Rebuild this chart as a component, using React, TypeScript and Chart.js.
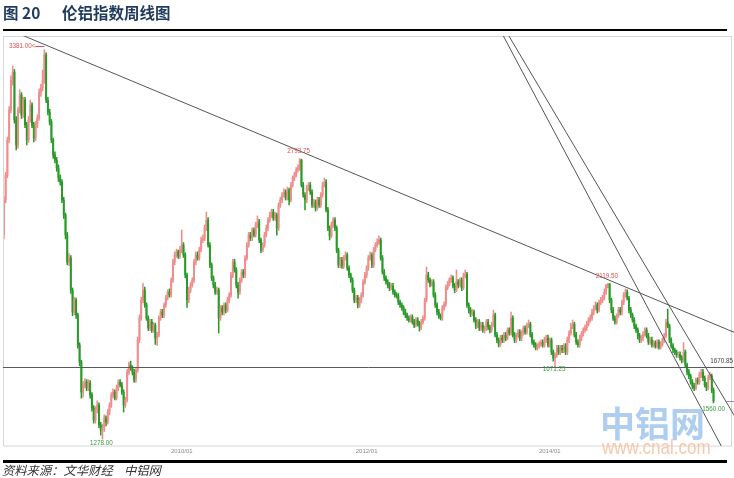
import React, { useEffect, useRef } from 'react';
import { Chart, registerables } from 'chart.js';
Chart.register(...registerables);

type Candle = [number, number, number, number]; // open, high, low, close

const w2008: Candle[] = [
  [2381,2590,2360,2570],[2570,2720,2555,2705],[2705,2910,2690,2894],[2894,3075,2880,3056],[3056,3240,3040,3218],
  [3218,3294,3190,3261],[3261,3275,2985,3002],[3002,3020,2840,2867],[2867,3070,2850,3056],[3056,3165,3040,3137],
  [3137,3150,3010,3029],[3029,3125,3015,3110],[3110,3125,2960,2975],[2975,2990,2867,2894],[2894,3020,2880,3002],
  [3002,3110,2990,3083],[3083,3095,2960,2975],[2975,2990,2883,2905],[2905,2995,2890,2975],[2975,3030,2960,3013],
  [3013,3170,3000,3153],[3153,3195,3130,3175],[3175,3272,3160,3218],[3218,3381,3200,3353],[3353,3365,3095,3110],
  [3110,3125,3030,3045],[3045,3060,2975,2991],[2991,3005,2880,2894],[2894,2905,2795,2813],[2813,2830,2770,2786],
  [2786,2800,2725,2743],[2743,2760,2670,2689],[2689,2705,2650,2667],[2667,2680,2555,2570],[2570,2585,2470,2489],
  [2489,2500,2360,2381],[2381,2395,2220,2235],[2235,2280,2215,2257],[2257,2270,2065,2084],[2084,2095,1945,1965],
  [1965,2045,1950,2030],[2030,2040,1930,1949],[1949,1960,1770,1787],[1787,1800,1675,1695],[1695,1705,1500,1533],
  [1533,1590,1505,1571],[1571,1605,1555,1587],[1587,1600,1540,1555],[1555,1600,1540,1582],
];

const w2009: Candle[] = [
  [1582,1595,1500,1517],[1517,1530,1430,1447],[1447,1460,1365,1382],[1382,1455,1365,1436],[1436,1485,1420,1463],
  [1463,1475,1340,1355],[1355,1370,1300,1328],[1328,1360,1278,1339],[1339,1410,1320,1393],[1393,1405,1350,1371],
  [1371,1440,1360,1425],[1425,1475,1410,1463],[1463,1530,1450,1517],[1517,1550,1500,1533],[1533,1545,1490,1501],
  [1501,1570,1490,1555],[1555,1600,1540,1587],[1587,1600,1560,1571],[1571,1585,1520,1533],[1533,1545,1425,1463],
  [1463,1505,1450,1490],[1490,1655,1480,1641],[1641,1695,1625,1679],[1679,1700,1650,1663],[1663,1675,1625,1641],
  [1641,1655,1585,1598],[1598,1665,1585,1652],[1652,1830,1640,1814],[1814,1950,1800,1933],[1933,2045,1920,2030],
  [2030,2120,2015,2084],[2084,2100,1990,2003],[2003,2015,1920,1933],[1933,1945,1865,1879],[1879,1925,1865,1911],
  [1911,1925,1855,1868],[1868,1910,1855,1895],[1895,1905,1790,1825],[1825,1855,1785,1841],[1841,1945,1830,1933],
  [1933,1980,1920,1965],[1965,1980,1935,1949],[1949,2015,1935,2003],[2003,2055,1990,2041],[2041,2085,2030,2073],
  [2073,2090,2045,2057],[2057,2150,2045,2138],[2138,2250,2125,2235],[2235,2290,2220,2273],[2273,2305,2260,2289],
  [2289,2300,2255,2268],[2268,2320,2255,2300],
];

const w2010: Candle[] = [
  [2300,2408,2285,2327],[2327,2340,2260,2273],[2273,2285,2150,2165],[2165,2175,1990,2030],[2030,2100,2015,2084],
  [2084,2125,2070,2111],[2111,2150,2100,2138],[2138,2250,2125,2235],[2235,2290,2220,2273],[2273,2290,2245,2257],
  [2257,2315,2245,2300],[2300,2370,2290,2354],[2354,2380,2340,2365],[2365,2435,2350,2419],[2419,2505,2405,2462],
  [2462,2475,2315,2327],[2327,2340,2205,2219],[2219,2230,2135,2149],[2149,2160,2095,2111],[2111,2125,2060,2073],
  [2073,2100,2060,2084],[2084,2095,1852,1933],[1933,2000,1920,1987],[1987,2000,1950,1965],[1965,2015,1950,2003],
  [2003,2015,1960,1976],[1976,2045,1965,2030],[2030,2070,2015,2057],[2057,2180,2045,2165],[2165,2250,2150,2235],
  [2235,2250,2180,2192],[2192,2205,2095,2111],[2111,2125,2040,2073],[2073,2150,2060,2138],[2138,2195,2125,2181],
  [2181,2195,2150,2165],[2165,2270,2150,2257],[2257,2340,2245,2327],[2327,2395,2315,2381],[2381,2395,2350,2365],
  [2365,2420,2350,2408],[2408,2420,2370,2381],[2381,2450,2370,2435],[2435,2484,2420,2451],[2451,2465,2340,2354],
  [2354,2365,2285,2300],[2300,2340,2290,2327],[2327,2395,2315,2381],[2381,2435,2370,2419],[2419,2475,2405,2462],
  [2462,2505,2450,2489],[2489,2520,2475,2505],
];

const w2011: Candle[] = [
  [2505,2520,2460,2473],[2473,2505,2460,2489],[2489,2500,2380,2419],[2419,2555,2405,2543],[2543,2585,2530,2570],
  [2570,2610,2555,2597],[2597,2630,2585,2613],[2613,2625,2570,2581],[2581,2640,2570,2624],[2624,2635,2543,2570],
  [2570,2665,2560,2651],[2651,2700,2640,2689],[2689,2720,2675,2705],[2705,2745,2695,2732],[2732,2760,2720,2743],
  [2743,2793.75,2730,2786],[2786,2790,2640,2651],[2651,2665,2585,2597],[2597,2610,2516,2570],[2570,2650,2555,2635],
  [2635,2665,2620,2651],[2651,2665,2600,2613],[2613,2625,2530,2543],[2543,2575,2530,2559],[2559,2570,2510,2527],
  [2527,2585,2515,2570],[2570,2585,2530,2543],[2543,2610,2530,2597],[2597,2665,2585,2651],[2651,2689,2640,2667],
  [2667,2680,2505,2516],[2516,2530,2405,2419],[2419,2430,2354,2376],[2376,2450,2365,2435],[2435,2475,2420,2462],
  [2462,2475,2405,2419],[2419,2430,2285,2300],[2300,2310,2205,2219],[2219,2260,2205,2246],[2246,2260,2200,2214],
  [2214,2270,2200,2257],[2257,2290,2245,2273],[2273,2285,2190,2203],[2203,2215,2150,2165],[2165,2175,2125,2138],
  [2138,2150,2070,2084],[2084,2095,2015,2030],[2030,2055,2015,2041],[2041,2055,1987,2003],[2003,2045,1990,2030],
  [2030,2070,2015,2057],[2057,2140,2045,2127],[2127,2180,2115,2165],
];

const w2012: Candle[] = [
  [2165,2215,2150,2203],[2203,2270,2190,2257],[2257,2290,2245,2273],[2273,2285,2205,2219],[2219,2315,2205,2300],
  [2300,2340,2290,2327],[2327,2360,2315,2343],[2343,2376,2330,2354],[2354,2365,2245,2257],[2257,2270,2170,2181],
  [2181,2195,2135,2149],[2149,2160,2115,2127],[2127,2140,2095,2111],[2111,2125,2080,2095],[2095,2120,2085,2106],
  [2106,2120,2060,2073],[2073,2085,2045,2057],[2057,2070,2040,2052],[2052,2065,2005,2019],[2019,2030,1990,2003],
  [2003,2015,1975,1987],[1987,2000,1950,1965],[1965,1980,1935,1949],[1949,1960,1920,1933],[1933,1945,1910,1922],
  [1922,1950,1910,1938],[1938,1950,1900,1911],[1911,1925,1880,1895],[1895,1935,1885,1922],[1922,1935,1890,1900],
  [1900,1915,1862,1884],[1884,1925,1870,1911],[1911,1945,1900,1933],[1933,2040,1920,2030],[2030,2208,2020,2165],
  [2165,2180,2125,2138],[2138,2150,2100,2116],[2116,2140,2105,2127],[2127,2140,2045,2057],[2057,2070,1990,2003],
  [2003,2015,1950,1965],[1965,1980,1930,1944],[1944,1955,1922,1933],[1933,2000,1920,1987],[1987,2020,1975,2008],
  [2008,2110,1995,2095],[2095,2130,2085,2116],[2116,2150,2105,2138],[2138,2165,2125,2149],[2149,2160,2095,2106],
  [2106,2120,2070,2084],[2084,2192,2075,2127],
];

const w2013: Candle[] = [
  [2127,2140,2095,2111],[2111,2150,2100,2138],[2138,2150,2080,2095],[2095,2175,2085,2160],[2160,2192,2150,2170],
  [2170,2180,1990,2003],[2003,2015,1960,1976],[1976,1990,1940,1954],[1954,1980,1945,1965],[1965,1975,1910,1922],
  [1922,1935,1875,1890],[1890,1925,1880,1911],[1911,1925,1865,1879],[1879,1910,1865,1895],[1895,1910,1855,1868],
  [1868,1890,1852,1879],[1879,1925,1865,1911],[1911,1925,1870,1884],[1884,1895,1852,1868],[1868,1910,1855,1895],
  [1895,1976,1885,1949],[1949,1960,1830,1841],[1841,1855,1800,1814],[1814,1825,1776,1792],[1792,1840,1780,1825],
  [1825,1840,1800,1814],[1814,1855,1800,1841],[1841,1855,1810,1825],[1825,1880,1815,1868],[1868,1880,1840,1852],
  [1852,1965,1840,1933],[1933,1945,1830,1841],[1841,1855,1800,1814],[1814,1850,1800,1836],[1836,1870,1825,1857],
  [1857,1870,1810,1825],[1825,1865,1810,1852],[1852,1890,1840,1879],[1879,1890,1845,1857],[1857,1905,1845,1890],
  [1890,1922,1880,1900],[1900,1910,1830,1841],[1841,1855,1790,1803],[1803,1815,1775,1787],[1787,1800,1760,1771],
  [1771,1795,1760,1782],[1782,1805,1770,1792],[1792,1815,1780,1803],[1803,1815,1775,1787],[1787,1830,1775,1814],
  [1814,1840,1800,1825],[1825,1840,1775,1787],
];

const w2014: Candle[] = [
  [1787,1825,1775,1814],[1814,1825,1735,1749],[1749,1760,1700,1717],[1717,1745,1671.25,1733],[1733,1785,1720,1771],
  [1771,1785,1735,1749],[1749,1785,1735,1771],[1771,1785,1745,1760],[1760,1795,1745,1782],[1782,1795,1735,1749],
  [1749,1830,1735,1814],[1814,1865,1800,1852],[1852,1905,1840,1890],[1890,1922,1875,1900],[1900,1910,1830,1841],
  [1841,1855,1790,1803],[1803,1815,1775,1787],[1787,1840,1775,1825],[1825,1860,1810,1846],[1846,1880,1835,1868],
  [1868,1895,1855,1879],[1879,1915,1865,1900],[1900,1935,1890,1922],[1922,1950,1910,1933],[1933,1980,1920,1965],
  [1965,2000,1950,1987],[1987,2020,1975,2003],[2003,2015,1960,1976],[1976,2030,1965,2019],[2019,2045,2005,2030],
  [2030,2055,2015,2041],[2041,2090,2030,2073],[2073,2115,2060,2106],[2106,2119.5,2095,2116],[2116,2119,2015,2030],
  [2030,2040,1960,1976],[1976,1990,1920,1933],[1933,1945,1900,1911],[1911,1955,1900,1944],[1944,1990,1935,1976],
  [1976,1990,1950,1965],[1965,2030,1950,2019],[2019,2070,2005,2057],[2057,2090,2045,2073],[2073,2085,2030,2041],
  [2041,2050,1960,1976],[1976,1990,1935,1949],[1949,1960,1910,1922],[1922,1935,1875,1890],[1890,1900,1855,1868],
  [1868,1880,1820,1836],[1836,1850,1800,1814],
];

const w2015: Candle[] = [
  [1814,1840,1800,1825],[1825,1860,1810,1846],[1846,1880,1835,1868],[1868,1880,1825,1836],[1836,1850,1790,1803],
  [1803,1830,1790,1814],[1814,1830,1775,1787],[1787,1810,1775,1798],[1798,1810,1770,1782],[1782,1815,1770,1803],
  [1803,1815,1765,1776],[1776,1805,1765,1792],[1792,1825,1780,1814],[1814,1850,1800,1836],[1836,1925,1825,1911],
  [1911,1981,1880,1890],[1890,1900,1800,1814],[1814,1825,1770,1782],[1782,1795,1745,1760],[1760,1770,1735,1749],
  [1749,1760,1720,1733],[1733,1750,1720,1738],[1738,1750,1705,1717],[1717,1730,1690,1706],[1706,1800,1695,1749],
  [1749,1760,1665,1679],[1679,1690,1625,1641],[1641,1655,1605,1620],[1620,1630,1575,1587],[1587,1600,1550,1566],
  [1566,1580,1540,1555],[1555,1610,1545,1598],[1598,1610,1575,1587],[1587,1640,1575,1625],[1625,1655,1610,1641],
  [1641,1655,1595,1609],[1609,1620,1560,1571],[1571,1585,1540,1555],[1555,1625,1545,1609],[1609,1640,1600,1620],
  [1620,1630,1530,1544],[1544,1555,1474,1485],
];

const years: Candle[][] = [w2008, w2009, w2010, w2011, w2012, w2013, w2014, w2015];
const yearNames = ['2008', '2009', '2010', '2011', '2012', '2013', '2014', '2015'];
const tickYears = ['2010', '2012', '2014'];
const trailingSlots = 10;

const yMin = 1241.6;
const yMax = 3455.6;
const supportLevel = 1670.85;

// trend lines, each through two (week index, price) points
const trendLines: [number, number, number, number][] = [
  [23, 3410, 343, 2140],
  [351.6, 2240, 395.3, 1458],
  [338.5, 2628, 406.7, 1536],
];

// price labels: week index, price, text, colour, kind
const priceNotes: [number, number, string, string, string][] = [
  [23, 3381, '3381.00<', '#e0504f', 'peak'],
  [168, 2793.75, '2793.75', '#d9534f', 'high'],
  [56, 1278, '1278.00', '#3a9a3a', 'low'],
  [313, 1671.25, '1671.25', '#3a9a3a', 'low2'],
  [343, 2119.5, '2119.50', '#d9534f', 'high'],
  [403, 1474, '1560.00', '#3a9a3a', 'lowLast'],
];

const UP = '#f08c8c';
const DOWN = '#279a27';

export default function App() {
  const ref = useRef<HTMLCanvasElement>(null);

  useEffect(() => {
    const candles: Candle[] = ([] as Candle[]).concat(...years);
    const labels: string[] = [];
    const tickMap: Record<number, string> = {};
    let k = 0;
    years.forEach((arr, yi) => {
      arr.forEach((_, j) => {
        labels.push(yearNames[yi] + '-' + (j + 1));
        if (j === 0 && tickYears.includes(yearNames[yi])) tickMap[k] = yearNames[yi] + '/01';
        k++;
      });
    });
    for (let t = 0; t < trailingSlots; t++) labels.push('');

    const colors = candles.map((c) => (c[3] >= c[0] ? UP : DOWN));
    const bodies = candles.map((c) => [c[0], c[3]]);
    const wicks = candles.map((c) => [c[2], c[1]]);
    const lastClose = candles[candles.length - 1][3];

    const overlay = {
      id: 'overlay',
      afterDatasetsDraw(chart: any) {
        const { ctx, chartArea: ca, scales } = chart;
        const xs = scales.x;
        const ys = scales.y;
        const W = chart.width;
        ctx.save();
        ctx.strokeStyle = '#d6d6d6';
        ctx.lineWidth = 1;
        ctx.strokeRect(ca.left + 0.5, ca.top + 0.5, ca.right - ca.left - 1, ca.bottom - ca.top - 0.5);

        ctx.save();
        ctx.beginPath();
        ctx.rect(ca.left, ca.top, W - ca.left, ca.bottom - ca.top);
        ctx.clip();
        const hy = Math.round(ys.getPixelForValue(supportLevel)) + 0.5;
        ctx.strokeStyle = '#5a5a5a';
        ctx.beginPath();
        ctx.moveTo(ca.left, hy);
        ctx.lineTo(W, hy);
        ctx.stroke();
        ctx.strokeStyle = '#555';
        trendLines.forEach((t) => {
          const x1 = xs.getPixelForValue(t[0]);
          const y1 = ys.getPixelForValue(t[1]);
          const x2 = xs.getPixelForValue(t[2]);
          const y2 = ys.getPixelForValue(t[3]);
          const dx = x2 - x1;
          const dy = y2 - y1;
          ctx.beginPath();
          ctx.moveTo(x1 - dx * 10, y1 - dy * 10);
          ctx.lineTo(x1 + dx * 10, y1 + dy * 10);
          ctx.stroke();
        });
        // last price marker
        const ly = Math.round(ys.getPixelForValue(lastClose)) + 0.5;
        ctx.strokeStyle = '#8c8cd8';
        ctx.beginPath();
        ctx.moveTo(ca.right - 7, ly);
        ctx.lineTo(W, ly);
        ctx.stroke();
        ctx.restore();

        ctx.font = '6.3px "Liberation Sans", Arial, sans-serif';
        ctx.textBaseline = 'middle';
        priceNotes.forEach(([idx, price, text, color, kind]) => {
          const px = xs.getPixelForValue(idx);
          const py = ys.getPixelForValue(price);
          ctx.fillStyle = color;
          if (kind === 'peak') {
            ctx.textAlign = 'right';
            ctx.fillText(text, px - 9, py - 4);
            ctx.strokeStyle = color;
            ctx.beginPath();
            ctx.moveTo(px - 9, Math.round(py - 4) + 0.5);
            ctx.lineTo(px, Math.round(py - 4) + 0.5);
            ctx.stroke();
          } else if (kind === 'high') {
            ctx.textAlign = 'center';
            ctx.fillText(text, px - 1, py - 7);
          } else if (kind === 'low') {
            ctx.textAlign = 'center';
            ctx.fillText(text, px - 1, py + 4);
          } else if (kind === 'low2') {
            ctx.textAlign = 'center';
            ctx.fillText(text, px - 1, py + 2.5);
          } else {
            ctx.textAlign = 'center';
            ctx.fillText(text, px, py + 6);
          }
        });
        ctx.fillStyle = '#444';
        ctx.textAlign = 'right';
        ctx.fillText(supportLevel.toFixed(2), W - 1, ys.getPixelForValue(supportLevel) - 5.5);
        ctx.restore();
      },
    };

    const chart = new Chart(ref.current as HTMLCanvasElement, {
      type: 'bar',
      data: {
        labels,
        datasets: [
          {
            data: bodies as any,
            backgroundColor: colors,
            barThickness: 1.3,
            minBarLength: 1,
            grouped: false,
          } as any,
          {
            data: wicks as any,
            backgroundColor: colors,
            barThickness: 0.9,
            grouped: false,
          } as any,
        ],
      },
      options: {
        animation: false,
        responsive: false,
        devicePixelRatio: 1,
        layout: { padding: { left: 3, right: 2, top: 36, bottom: 20.8 } },
        plugins: { legend: { display: false }, tooltip: { enabled: false } },
        scales: {
          x: {
            type: 'category',
            grid: { display: false, drawTicks: false },
            border: { display: false },
            ticks: {
              autoSkip: false,
              maxRotation: 0,
              minRotation: 0,
              padding: 2,
              color: '#8a8a8a',
              font: { size: 6, family: '"Liberation Sans", Arial, sans-serif' },
              callback: (_v: any, i: number) => tickMap[i] || '',
            },
          },
          y: { display: false, min: yMin, max: yMax },
        },
      },
      plugins: [overlay],
    });
    return () => chart.destroy();
  }, []);

  const abs: React.CSSProperties = { position: 'absolute', whiteSpace: 'pre' };
  return (
    <div style={{ position: 'absolute', left: 0, top: 0, width: 734, height: 478, background: '#fff', overflow: 'hidden' }}>
      <canvas ref={ref} width={734} height={478} style={{ position: 'absolute', left: 0, top: 0 }} />
      <div style={{ ...abs, left: 3, top: 2, font: 'bold 15.5px "Noto Sans CJK SC", sans-serif', color: '#1e3a5c', lineHeight: '20px' }}>图 20</div>
      <div style={{ ...abs, left: 62, top: 2, font: 'bold 15.5px "Noto Sans CJK SC", sans-serif', color: '#1e3a5c', lineHeight: '20px' }}>伦铝指数周线图</div>
      <div style={{ position: 'absolute', left: 3, top: 29, width: 724, height: 2, background: '#000' }} />
      <div style={{ ...abs, left: 600, top: 401, font: 'bold 35px "Noto Sans CJK SC", sans-serif', color: 'rgba(160,196,236,0.85)', lineHeight: '42px' }}>中铝网</div>
      <div style={{ ...abs, left: 602, top: 438, font: '17px "Liberation Sans", Arial, sans-serif', color: 'rgba(246,190,156,0.85)', lineHeight: '20px', transform: 'scaleY(1.15)' }}>www.cnal.com</div>
      <div style={{ position: 'absolute', left: 3, top: 460, width: 724, height: 3, background: '#000' }} />
      <div style={{ ...abs, left: 2, top: 463, font: 'italic 12.3px "Noto Sans CJK SC", sans-serif', color: '#333', lineHeight: '15px' }}>资料来源：文华财经</div>
      <div style={{ ...abs, left: 124, top: 463, font: 'italic 12.3px "Noto Sans CJK SC", sans-serif', color: '#333', lineHeight: '15px' }}>中铝网</div>
    </div>
  );
}
